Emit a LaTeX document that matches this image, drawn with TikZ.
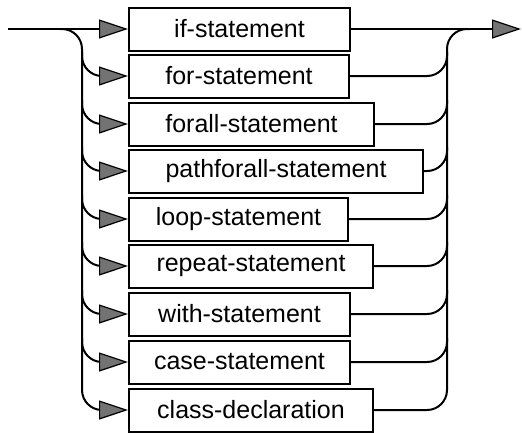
\documentclass[tikz,border=0pt]{standalone}
\usepackage{fontspec}
\setmainfont{Liberation Sans}
\usetikzlibrary{arrows.meta}
\begin{document}
\begin{tikzpicture}[x=1pt,y=-1pt,
  stmt/.style={draw, line width=2pt, minimum height=43pt, inner sep=0pt,
    font=\fontsize{25}{29}\selectfont},
  conn/.style={line width=2pt, rounded corners=20pt},
  tip/.style={-{Triangle[length=29pt,width=19pt,fill=black!55,line width=1.2pt]}}]
\useasboundingbox (0,0) rectangle (522,432);
% boxes: left edge 129
\node[stmt, minimum width=221pt] (b1) at (239.5,29) {if-statement};
\node[stmt, minimum width=220pt] (b2) at (239,76) {for-statement};
\node[stmt, minimum width=245pt] (b3) at (251.5,124) {forall-statement};
\node[stmt, minimum width=294pt] (b4) at (276,171) {pathforall-statement};
\node[stmt, minimum width=219pt] (b5) at (238.5,219) {loop-statement};
\node[stmt, minimum width=244pt] (b6) at (251,266) {repeat-statement};
\node[stmt, minimum width=221pt] (b7) at (239.5,314) {with-statement};
\node[stmt, minimum width=221pt] (b8) at (239.5,362) {case-statement};
\node[stmt, minimum width=244pt] (b9) at (251,410) {class-declaration};
% entry and exit
\coordinate (in) at (8,29);
\coordinate (out) at (521,29);
\coordinate (ls) at (60,29);
\coordinate (re) at (470,29);
\draw[line width=1.6pt, tip] (in) -- (b1.west);
\draw[line width=1.6pt, tip] (b1.east) -- (out);
% left rail
\draw[conn, tip] (ls) -- (82,29) -- (82,410) -- (b9.west);
\foreach \i/\y in {2/76,3/124,4/171,5/219,6/266,7/314,8/362}{
  \draw[conn, tip] (82,\y-24) -- (82,\y) -- (b\i.west);
}
% right rail
\draw[conn] (b9.east) -- (447,410) -- (447,29) -- (re);
\foreach \i/\y in {2/76,3/124,4/171,5/219,6/266,7/314,8/362}{
  \draw[conn] (b\i.east) -- (447,\y) -- (447,\y-24);
}
\end{tikzpicture}
\end{document}
